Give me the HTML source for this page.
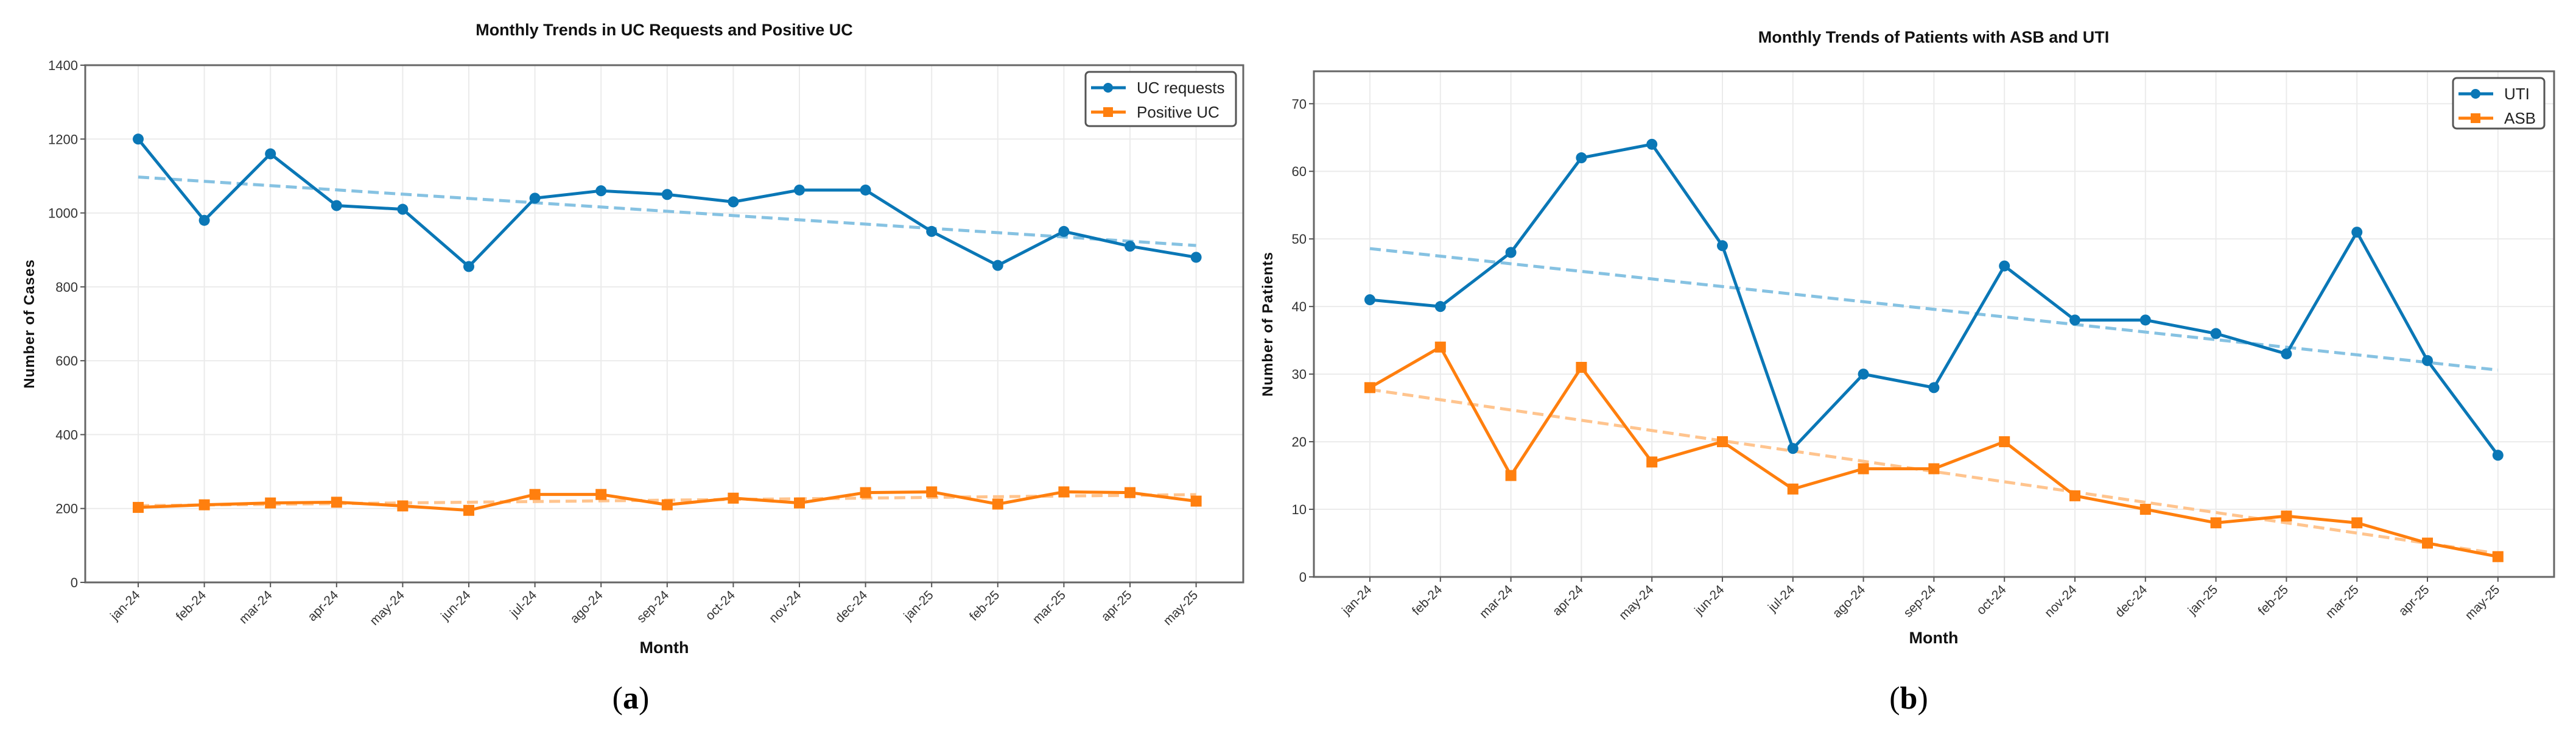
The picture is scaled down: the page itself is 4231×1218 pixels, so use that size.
<!DOCTYPE html>
<html><head><meta charset="utf-8"><style>
html,body{margin:0;padding:0;background:#fff;}
svg{display:block;font-family:"Liberation Sans",sans-serif;}
</style></head><body>
<svg id="fig" width="4231" height="1218" viewBox="0 0 4231 1218" xmlns="http://www.w3.org/2000/svg"></svg>
<script>
const months=["jan-24","feb-24","mar-24","apr-24","may-24","jun-24","jul-24","ago-24","sep-24","oct-24","nov-24","dec-24","jan-25","feb-25","mar-25","apr-25","may-25"];
const ucRequests=[1200,980,1160,1020,1010,855,1040,1060,1050,1030,1062,1062,950,858,950,910,880];
const positiveUC=[203,210,215,217,207,195,238,238,210,228,215,243,245,212,245,243,220];
const ticksA=[0,200,400,600,800,1000,1200,1400];
const uti=[41,40,48,62,64,49,19,30,28,46,38,38,36,33,51,32,18];
const asb=[28,34,15,31,17,20,13,16,16,20,12,10,8,9,8,5,3];
const ticksB=[0,10,20,30,40,50,60,70];

const NS="http://www.w3.org/2000/svg";
const fig=document.getElementById('fig');
function mk(tag,attrs,parent,text){const e=document.createElementNS(NS,tag);for(const k in attrs)e.setAttribute(k,attrs[k]);if(text!==undefined)e.textContent=text;(parent||fig).appendChild(e);return e;}
function fit(v){const n=v.length;let sx=0,sy=0,sxx=0,sxy=0;v.forEach((y,x)=>{sx+=x;sy+=y;sxx+=x*x;sxy+=x*y;});const b=(n*sxy-sx*sy)/(n*sxx-sx*sx);const a=(sy-b*sx)/n;return [a,a+b*(n-1)];}

function chart(cfg){
  const g=mk('g',{});
  
  
  const X=i=>cfg.x0+i*cfg.step;
  const Y=v=>cfg.yb-(v-cfg.ymin)/(cfg.ymax-cfg.ymin)*(cfg.yb-cfg.yt);
  // grid
  cfg.ticks.forEach(t=>{const l=mk('line',{x1:cfg.xl,x2:cfg.xr,y1:Y(t),y2:Y(t),stroke:'#ebebeb','stroke-width':2},g);});
  months.forEach((m,i)=>{const l=mk('line',{x1:X(i),x2:X(i),y1:cfg.yt,y2:cfg.yb,stroke:'#ebebeb','stroke-width':2},g);});
  // trends
  cfg.series.forEach(s=>{const f=fit(s.data);const l=mk('line',{x1:X(0),y1:Y(f[0]),x2:X(s.data.length-1),y2:Y(f[1]),stroke:s.light,'stroke-width':5,'stroke-dasharray':'18 9'},g);});
  // series
  cfg.series.forEach(s=>{
    const p=mk('polyline',{points:s.data.map((v,i)=>X(i)+','+Y(v)).join(' '),fill:'none',stroke:s.color,'stroke-width':5,'stroke-linejoin':'round'},g);
    
    s.data.forEach((v,i)=>{let m;
      if(s.shape==='circle')m=mk('circle',{cx:X(i),cy:Y(v),r:9,fill:s.color},g);
      else m=mk('rect',{x:X(i)-9,y:Y(v)-9,width:18,height:18,fill:s.color},g);
      });
  });
  // frame
  const fr=mk('rect',{x:cfg.xl,y:cfg.yt,width:cfg.xr-cfg.xl,height:cfg.yb-cfg.yt,fill:'none',stroke:'#666','stroke-width':3},g);
  
  // y ticks
  cfg.ticks.forEach(t=>{mk('line',{x1:cfg.xl-8,x2:cfg.xl,y1:Y(t),y2:Y(t),stroke:'#555','stroke-width':2},g);
    const tx=mk('text',{x:cfg.xl-12,y:Y(t)+8,'text-anchor':'end','font-size':22,fill:'#333'},g,String(t));
    });
  // x ticks
  months.forEach((m,i)=>{mk('line',{x1:X(i),x2:X(i),y1:cfg.yb,y2:cfg.yb+8,stroke:'#555','stroke-width':2},g);
    const tx=mk('text',{x:X(i)+4,y:cfg.yb+22,'text-anchor':'end','font-size':21,fill:'#333',transform:`rotate(-45 ${X(i)+4} ${cfg.yb+22})`},g,m);
    });
  // titles
  const tt=mk('text',{x:cfg.tx,y:cfg.ty,'text-anchor':'middle','font-size':27,'font-weight':'bold',fill:'#111'},g,cfg.title);
  
  const xl=mk('text',{x:cfg.tx,y:cfg.mty,'text-anchor':'middle','font-size':27,'font-weight':'bold',fill:'#111'},g,'Month');
  
  const cy=(cfg.yt+cfg.yb)/2;
  const yl=mk('text',{x:cfg.ylx,y:cy,'text-anchor':'middle','font-size':24,'font-weight':'bold',fill:'#111','letter-spacing':1,transform:`rotate(-90 ${cfg.ylx} ${cy})`},g,cfg.ylabel);
  
  const pl=mk('text',{x:cfg.px,y:1163,'text-anchor':'middle','font-size':52,fill:'#000','font-family':'Liberation Serif, serif'},g,'');
  
  mk('tspan',{},pl,'(');mk('tspan',{'font-weight':'bold'},pl,cfg.panel);mk('tspan',{},pl,')');
  // legend
  const L=cfg.legend;
  const lg=mk('g',{},g);
  mk('rect',{x:L.x,y:L.y,width:L.w,height:L.h,rx:6,fill:'#fff',stroke:'#555','stroke-width':3},lg);
  cfg.series.forEach((s,k)=>{const yy=L.y+26+k*40;
    const e=mk('g',{},lg);
    mk('line',{x1:L.x+9,x2:L.x+66,y1:yy,y2:yy,stroke:s.color,'stroke-width':5},e);
    if(s.shape==='circle')mk('circle',{cx:L.x+37,cy:yy,r:8,fill:s.color},e);else mk('rect',{x:L.x+29,y:yy-8,width:16,height:16,fill:s.color},e);
    mk('text',{x:L.x+84,y:yy+9,'font-size':26,fill:'#222'},e,s.label);});
}
chart({name:'chart-uc-requests',x0:227,step:108.6,xl:140,xr:2042,yt:107,yb:956,ymin:0,ymax:1400,ticks:ticksA,
  title:'Monthly Trends in UC Requests and Positive UC',tx:1091,ty:58,mty:1072,ylabel:'Number of Cases',ylx:56,px:1036,panel:'a',
  legend:{x:1783,y:118,w:247,h:89},
  series:[{key:'uc-requests',label:'UC requests',data:ucRequests,color:'#0a77b6',light:'#86c2e2',shape:'circle'},
          {key:'positive-uc',label:'Positive UC',data:positiveUC,color:'#ff7f0e',light:'#ffc48e',shape:'square'}]});
chart({name:'chart-asb-uti',x0:2250,step:115.8,xl:2158,xr:4195,yt:117,yb:947,ymin:0,ymax:74.8,ticks:ticksB,
  title:'Monthly Trends of Patients with ASB and UTI',tx:3176,ty:70,mty:1056,ylabel:'Number of Patients',ylx:2090,px:3135,panel:'b',
  legend:{x:4029,y:128,w:150,h:83},
  series:[{key:'uti',label:'UTI',data:uti,color:'#0a77b6',light:'#86c2e2',shape:'circle'},
          {key:'asb',label:'ASB',data:asb,color:'#ff7f0e',light:'#ffc48e',shape:'square'}]});
</script>
</body></html>
